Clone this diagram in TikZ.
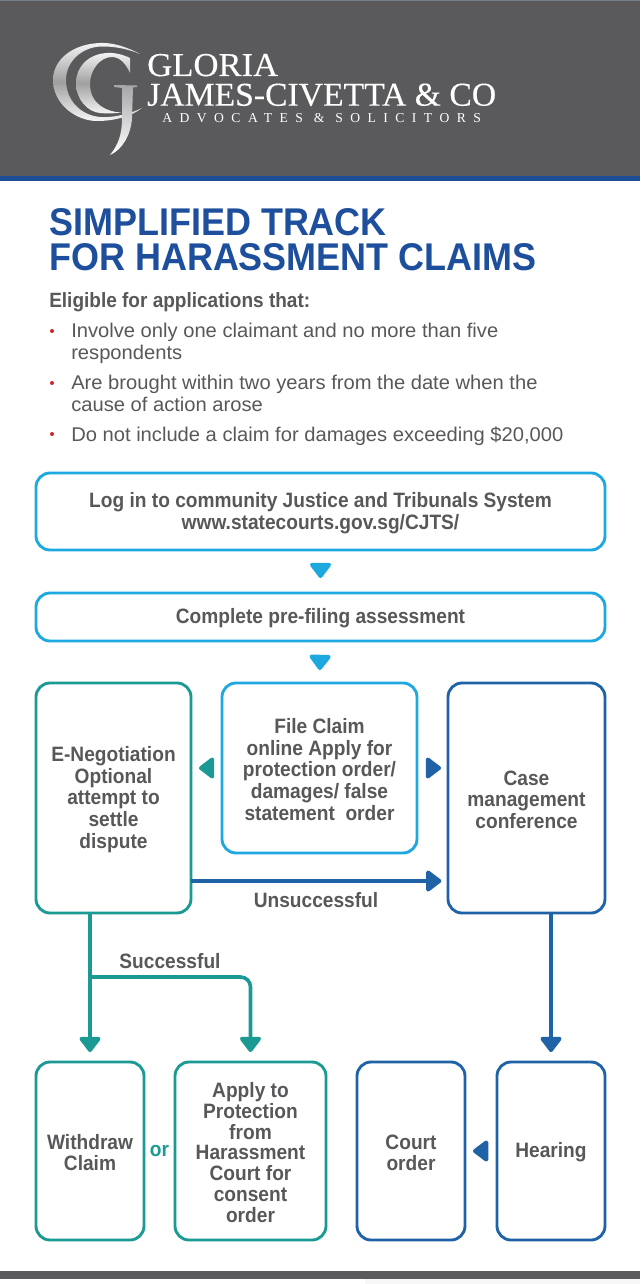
\documentclass[tikz,border=0pt]{standalone}
\usepackage{fontspec}
\setmainfont{Liberation Sans}
\newfontfamily\bodyf[FakeStretch=1.015]{Liberation Sans}
\newfontfamily\boldf[FakeStretch=0.92]{Liberation Sans Bold}
\newfontfamily\titlef[FakeStretch=0.93]{Liberation Sans Bold}
\newfontfamily\logoa[FakeStretch=1.04,FakeBold=0.25]{Liberation Serif}
\newfontfamily\logob[FakeStretch=1.01,FakeBold=0.25]{Liberation Serif}
\newfontfamily\logoc[LetterSpace=55]{Liberation Serif}
\usetikzlibrary{arrows.meta}
\definecolor{hdr}{HTML}{5A5A5C}
\definecolor{band}{HTML}{1F4E96}
\definecolor{topl}{HTML}{76808A}
\definecolor{txt}{HTML}{58585A}
\definecolor{cyanb}{HTML}{1DA8DF}
\definecolor{teal}{HTML}{1A9A92}
\definecolor{blueb}{HTML}{1F62A5}
\definecolor{titleb}{HTML}{1D4F9C}
\definecolor{redb}{HTML}{D8232A}
\tikzset{
  x=0.75pt,y=-0.75pt,
  headtip/.tip={Triangle[length=12.5pt,width=18pt,round,line width=3pt]},
  flowbox/.style={draw,rounded corners=10.5pt,line width=2.15pt,align=center,text=txt,inner sep=0pt,outer sep=0pt,
     font=\boldf\fontsize{15.6pt}{16.3pt}\selectfont},
  shorttip/.style 2 args={line width=1pt,shorten <=#1*0.75pt,shorten >=#2*0.75pt,-headtip},
  linkline/.style={line width=2.7pt,rounded corners=7.5pt,shorten >=7.5pt,-headtip},
  bul/.style={anchor=base west,text=txt,inner sep=0pt,font=\bodyf\fontsize{14.9pt}{16.5pt}\selectfont},
  redd/.style={circle,fill=redb,inner sep=0pt,minimum size=3pt},
  flab/.style={text=txt,inner sep=0pt,font=\boldf\fontsize{15.6pt}{17pt}\selectfont},
  logot/.style={anchor=base west,text=white,inner sep=0pt},
  metal/.style={top color=white!92!gray,bottom color=white!92!gray,middle color=gray!75!white,shading angle=0},
}
\newcommand{\boxat}[7]{\node[flowbox,draw=#6,minimum width=#4*0.75pt,minimum height=#5*0.75pt,anchor=north west] (#1) at (#2,#3) {\rule{0pt}{13.5pt}#7};}
\begin{document}
\begin{tikzpicture}
\useasboundingbox (0,0) rectangle (640,1284);
\fill[white] (0,0) rectangle (640,1284);
\fill[hdr] (0,0) rectangle (640,176);
\fill[topl] (0,0) rectangle (640,1.2);
\fill[band] (0,176) rectangle (640,181);
\fill[hdr] (0,1271) rectangle (640,1279);
\fill[black!3] (365,1279) rectangle (640,1284);
% logo mark
\shade[metal] (140,54) .. controls (125,46) and (112,42.5) .. (100,43)
  .. controls (72,44) and (53,60) .. (53,80)
  .. controls (53,104) and (76,121) .. (97,121)
  .. controls (115,121) and (132,116) .. (142,108)
  .. controls (130,114) and (112,118) .. (100,117)
  .. controls (80,115) and (66,100) .. (66,80)
  .. controls (66,60) and (84,46) .. (103,46.5)
  .. controls (118,46.5) and (130,50) .. (140,54) -- cycle;
\shade[metal] (130,58) .. controls (122,54) and (113,52.5) .. (107,53)
  .. controls (88,54) and (76,67) .. (76,83)
  .. controls (76,100) and (88,112) .. (100,113)
  .. controls (108,113.7) and (115,113.5) .. (121,112.5)
  .. controls (108,112) and (90,105) .. (90,84)
  .. controls (90,70) and (100,57) .. (112,57)
  .. controls (120,57) and (126,64) .. (130,73) -- cycle;
\shade[top color=gray!70!white,bottom color=white] (114,85) -- (137,85.5) -- (137,87) -- (133,87.5) -- (132,118)
  .. controls (131,135) and (122,150) .. (110,155)
  .. controls (118,145) and (122,135) .. (122,118) -- (122,88) -- (114,87) -- cycle;
\node[logot,font=\logoa\fontsize{25pt}{25pt}\selectfont] (lg1) at (147,76) {GLORIA};
\node[logot,font=\logob\fontsize{25pt}{25pt}\selectfont] (lg2) at (147,105.7) {JAMES-CIVETTA \& CO};
\node[logot,font=\logoc\fontsize{10.2pt}{10pt}\selectfont] (lg3) at (162,122.7) {ADVOCATES \& SOLICITORS};
% title
\node[anchor=base west,text=titleb,inner sep=0pt,font=\titlef\fontsize{29pt}{29pt}\selectfont] (t1) at (49,235) {SIMPLIFIED TRACK};
\node[anchor=base west,text=titleb,inner sep=0pt,font=\titlef\fontsize{29pt}{29pt}\selectfont] (t2) at (49,270) {FOR HARASSMENT CLAIMS};
\node[anchor=base west,text=txt,inner sep=0pt,font=\boldf\fontsize{15.5pt}{16pt}\selectfont] (e) at (49,307) {Eligible for applications that:};
\node[redd] (d1) at (52,331) {};
\node[bul] (b1) at (71,337) {Involve only one claimant and no more than five};
\node[bul] (b1b) at (71,359) {respondents};
\node[redd] (d2) at (52,383) {};
\node[bul] (b2) at (71,389) {Are brought within two years from the date when the};
\node[bul] (b2b) at (71,411) {cause of action arose};
\node[redd] (d3) at (52,434) {};
\node[bul] (b3) at (71,441) {Do not include a claim for damages exceeding \$20,000};
% boxes
\boxat{login}{36}{473}{569}{77}{cyanb}{Log in to community Justice and Tribunals System\\www.statecourts.gov.sg/CJTS/}
\boxat{pre}{36}{593}{569}{48}{cyanb}{Complete pre-filing assessment}
\boxat{eneg}{36}{683}{155}{230}{teal}{E-Negotiation\\Optional\\attempt to\\settle\\dispute}
\boxat{file}{222}{683}{195}{170}{cyanb}{File Claim\\online Apply for\\protection order/\\damages/ false\\statement~ order}
\boxat{case}{448}{683}{157}{230}{blueb}{Case\\management\\conference}
\boxat{withd}{36}{1062}{108}{178}{teal}{Withdraw\\Claim}
\boxat{apply}{175}{1062}{151}{178}{teal}{Apply to\\[-0.75pt]Protection\\[-0.75pt]from\\[-0.75pt]Harassment\\[-0.75pt]Court for\\[-0.75pt]consent\\[-0.75pt]order}
\boxat{court}{357}{1062}{108}{178}{blueb}{Court\\order}
\boxat{hear}{497}{1062}{108}{178}{blueb}{Hearing}
% short arrows
\draw[shorttip={15}{15},draw=cyanb,fill=cyanb] (login.south) -- (pre.north);
\draw[shorttip={15}{13},draw=cyanb,fill=cyanb] (pre.south) -- (file.north);
\draw[shorttip={9}{8},draw=teal,fill=teal] (file.west) -- (file.west -| eneg.east);
\draw[shorttip={10}{7},draw=blueb,fill=blueb] (file.east) -- (file.east -| case.west);
\draw[shorttip={10}{8},draw=blueb,fill=blueb] (hear.west) -- (court.east);
% long connectors
\coordinate (unsy) at (0,881);
\coordinate (succy) at (0,977);
\draw[linkline,draw=blueb,fill=none,-{Triangle[length=12.5pt,width=18pt,round,line width=3pt,fill=blueb]},shorten >=5pt] (eneg.east |- unsy) -- (case.west |- unsy);
\draw[linkline,draw=teal] (withd.north |- eneg.south) -- (withd.north);
\coordinate (branch) at (withd.north |- succy);
\draw[linkline,draw=teal] (branch) -- (branch -| apply.north) -- (apply.north);
\draw[linkline,draw=blueb] (hear.north |- case.south) -- (hear.north);
% labels
\node[flab] (uns) at (316,900) {Unsuccessful};
\node[flab] (suc) at (170,961) {Successful};
\node[flab,text=teal] (orl) at (159.5,1151) {or};
\end{tikzpicture}
\end{document}
